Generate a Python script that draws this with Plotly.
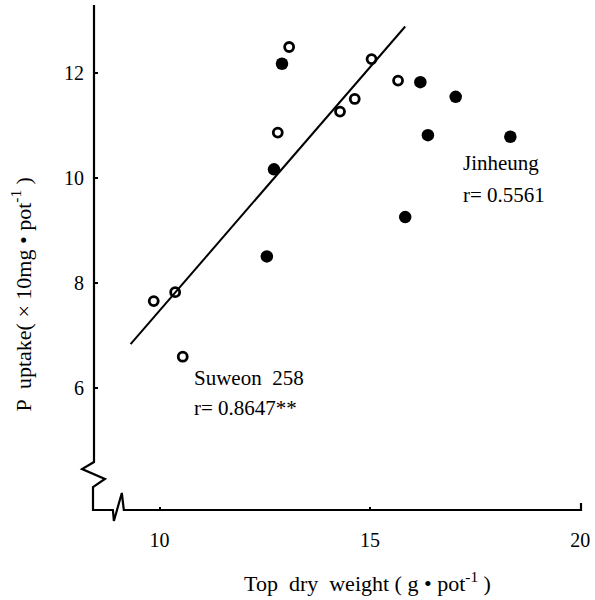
import plotly.graph_objects as go

# Data
suweon_x = [9.86, 10.37, 10.55, 12.81, 13.08, 14.29, 14.64, 15.04, 15.67]
suweon_y = [7.66, 7.83, 6.60, 10.87, 12.50, 11.27, 11.51, 12.27, 11.86]
jinheung_x = [12.91, 12.72, 12.55, 16.20, 17.04, 16.38, 18.34, 15.84]
jinheung_y = [12.18, 10.17, 8.51, 11.83, 11.55, 10.82, 10.79, 9.26]
fit_x = [9.31, 15.84]
fit_y = [6.84, 12.89]
x_ticks = [10, 15, 20]
y_ticks = [6, 8, 10, 12]

W, H = 595, 600
ML, MR, MT, MB = 94, 11, 5, 90
XR = [8.44, 20.02]
YR = [3.68, 13.30]
FONT = "Liberation Serif"

fig = go.Figure()
fig.add_trace(go.Scatter(x=fit_x, y=fit_y, mode="lines",
                         line=dict(color="black", width=2), showlegend=False))
fig.add_trace(go.Scatter(x=suweon_x, y=suweon_y, mode="markers",
                         marker=dict(symbol="circle-open", size=9, color="black",
                                     line=dict(width=2.8, color="black")),
                         showlegend=False))
fig.add_trace(go.Scatter(x=jinheung_x, y=jinheung_y, mode="markers",
                         marker=dict(symbol="circle", size=12.5, color="black"),
                         showlegend=False))

pw, ph = W - ML - MR, H - MT - MB
def px(p):
    return (p - ML) / pw
def py(p):
    return (H - MB - p) / ph

# axis lines with break marks (decoration)
pts = [(94, 5), (94, 462), (82, 469), (105, 479), (93, 487), (93, 510),
       (113, 510), (114, 521), (122, 493), (124, 510), (584, 510), (584, 503)]
path = "M " + " L ".join(f"{px(a):.5f},{py(b):.5f}" for a, b in pts)
fig.add_shape(type="path", path=path, xref="paper", yref="paper",
              line=dict(color="black", width=2.2))

ann_font = dict(family=FONT, size=21, color="black")
fig.add_annotation(x=10.78, y=6.19, text="Suweon  258", showarrow=False,
                   xanchor="left", yanchor="middle", font=ann_font)
fig.add_annotation(x=10.78, y=5.62, text="r= 0.8647**", showarrow=False,
                   xanchor="left", yanchor="middle", font=ann_font)
fig.add_annotation(x=17.16, y=10.29, text="Jinheung", showarrow=False,
                   xanchor="left", yanchor="middle", font=ann_font)
fig.add_annotation(x=17.16, y=9.68, text="r= 0.5561", showarrow=False,
                   xanchor="left", yanchor="middle", font=ann_font)

# axis titles
title_font = dict(family=FONT, size=22, color="black")
fig.add_annotation(x=px(369), y=py(582), xref="paper", yref="paper",
                   text="Top  dry  weight ( g • pot<sup>-1</sup> )",
                   showarrow=False, xanchor="center", yanchor="middle",
                   font=title_font)
fig.add_annotation(x=px(21), y=py(294), xref="paper", yref="paper",
                   text="P  uptake( × 10mg • pot<sup>-1</sup> )", textangle=-90,
                   showarrow=False, xanchor="center", yanchor="middle",
                   font=title_font)

fig.update_layout(
    width=W, height=H,
    margin=dict(l=ML, r=MR, t=MT, b=MB),
    paper_bgcolor="white", plot_bgcolor="white",
    font=dict(family=FONT, size=20, color="black"),
    xaxis=dict(range=XR, tickvals=x_ticks, ticktext=[str(v) for v in x_ticks],
               showgrid=False, zeroline=False, showline=False,
               ticks="inside", ticklen=3, tickwidth=2, tickcolor="black",
               ticklabelstandoff=16),
    yaxis=dict(range=YR, tickvals=y_ticks, ticktext=[str(v) for v in y_ticks],
               showgrid=False, zeroline=False, showline=False,
               ticks="inside", ticklen=4, tickwidth=2, tickcolor="black",
               ticklabelstandoff=9),
)

fig.write_html("out.html")
